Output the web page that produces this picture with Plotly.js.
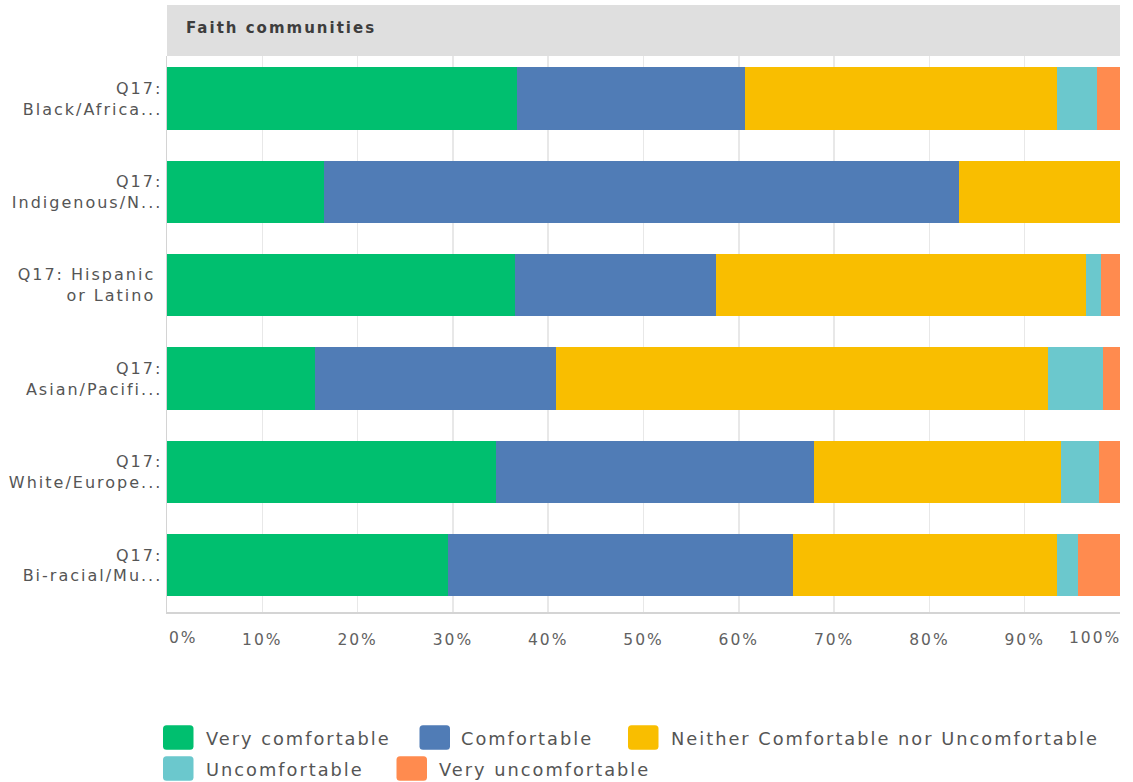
<!DOCTYPE html>
<html>
<head>
<meta charset="utf-8">
<script src="https://cdn.plot.ly/plotly-3.0.1.min.js"></script>
<style>
  html, body { margin: 0; padding: 0; background: #ffffff; }
  #chart { width: 1133px; height: 782px; }
  svg text { letter-spacing: 2px; }
</style>
</head>
<body>
<div id="chart"></div>
<script>
// ---- data ----
const categories = [
  'Q17:<br>Black/Africa...',
  'Q17:<br>Indigenous/N...',
  'Q17: Hispanic\u00a0<br>or Latino\u00a0',
  'Q17:<br>Asian/Pacifi...',
  'Q17:<br>White/Europe...',
  'Q17:<br>Bi-racial/Mu...'
];
const seriesNames = ['Very comfortable', 'Comfortable', 'Neither Comfortable nor Uncomfortable', 'Uncomfortable', 'Very uncomfortable'];
const veryComfortable   = [36.7, 16.5, 36.5, 15.5, 34.5, 29.5];
const comfortable       = [23.9, 66.6, 21.1, 25.3, 33.4, 36.2];
const neither           = [32.8, 16.9, 38.8, 51.6, 25.9, 27.7];
const uncomfortable     = [4.2, 0, 1.6, 5.8, 4.0, 2.2];
const veryUncomfortable = [2.4, 0, 2.0, 1.8, 2.2, 4.4];
const tickValues = [0, 10, 20, 30, 40, 50, 60, 70, 80, 90, 100];
const tickLabels = ['0%', '10%', '20%', '30%', '40%', '50%', '60%', '70%', '80%', '90%', '100%'];
const panelTitle = 'Faith communities';

// ---- style ----
const colors = ['#00bf6f', '#507cb6', '#f9be00', '#6bc8cd', '#ff8b4f'];
const FONT = 'DejaVu Sans, Verdana, sans-serif';
const W = 1133, H = 782;
const M = { l: 167, r: 13, t: 56, b: 170 };
const plotW = W - M.l - M.r, plotH = H - M.t - M.b;
const px = p => (p - M.l) / plotW;          // pixel x -> paper
const py = p => (H - M.b - p) / plotH;      // pixel y -> paper

const seriesValues = [veryComfortable, comfortable, neither, uncomfortable, veryUncomfortable];
const traces = seriesValues.map((vals, i) => ({
  type: 'bar',
  orientation: 'h',
  name: seriesNames[i],
  y: categories,
  x: vals,
  width: 0.667,
  marker: { color: colors[i], line: { width: 0 } },
  hoverinfo: 'x+name',
  showlegend: false
}));

const shapes = [];
const annotations = [];

// header band
shapes.push({ type: 'rect', xref: 'paper', yref: 'paper', x0: 0, x1: 1, y0: 1, y1: py(5),
  fillcolor: '#dfdfdf', line: { width: 0 }, layer: 'below' });
annotations.push({ xref: 'paper', yref: 'paper', x: px(184), y: py(28), xanchor: 'left', yanchor: 'middle',
  text: panelTitle, showarrow: false, font: { family: FONT, size: 15, color: '#3d3d3d', weight: 700 } });

// end tick labels (0% left-aligned, 100% right-aligned)
const last = tickLabels.length - 1;
annotations.push({ xref: 'x', yref: 'paper', x: tickValues[0], y: py(638), xanchor: 'left', yanchor: 'middle',
  text: tickLabels[0], showarrow: false, font: { family: FONT, size: 15.5, color: '#616161' } });
annotations.push({ xref: 'x', yref: 'paper', x: tickValues[last], y: py(638), xanchor: 'right', yanchor: 'middle', xshift: 3,
  text: tickLabels[last], showarrow: false, font: { family: FONT, size: 15.5, color: '#616161' } });

// manual legend
const legendPos = [
  { sx: 163, tx: 204, cy: 737.5 },
  { sx: 419.5, tx: 459, cy: 737.5 },
  { sx: 628, tx: 669, cy: 737.5 },
  { sx: 163, tx: 204, cy: 768.5 },
  { sx: 396.5, tx: 437, cy: 768.5 }
];
const sw = 30.5, sh = 24.5, rad = 3.5;
seriesNames.forEach((nm, i) => {
  const p = legendPos[i];
  const x0 = px(p.sx), x1 = px(p.sx + sw);
  const yT = py(p.cy - sh / 2), yB = py(p.cy + sh / 2);
  const rx = rad / plotW, ry = rad / plotH;
  const path = `M ${x0 + rx},${yT} L ${x1 - rx},${yT} Q ${x1},${yT} ${x1},${yT - ry} L ${x1},${yB + ry} Q ${x1},${yB} ${x1 - rx},${yB} L ${x0 + rx},${yB} Q ${x0},${yB} ${x0},${yB + ry} L ${x0},${yT - ry} Q ${x0},${yT} ${x0 + rx},${yT} Z`;
  shapes.push({ type: 'path', xref: 'paper', yref: 'paper', path: path, fillcolor: colors[i], line: { width: 0 } });
  annotations.push({ xref: 'paper', yref: 'paper', x: px(p.tx), y: py(p.cy + 0.5), xanchor: 'left', yanchor: 'middle',
    text: nm, showarrow: false, font: { family: FONT, size: 17.8, color: '#555555' } });
});

const layout = {
  width: W, height: H,
  margin: M,
  paper_bgcolor: '#ffffff',
  plot_bgcolor: '#ffffff',
  barmode: 'stack',
  bargap: 0,
  showlegend: false,
  font: { family: FONT, color: '#555555' },
  xaxis: {
    range: [0, 100],
    tickvals: tickValues,
    ticktext: tickLabels.map((t, i) => (i === 0 || i === last) ? '' : t),
    showgrid: true, gridcolor: '#e8e8e8', gridwidth: 1.5,
    zeroline: false,
    showline: true, linecolor: '#d4d4d4', linewidth: 1.5,
    ticks: '', ticklabelstandoff: 13,
    tickfont: { family: FONT, size: 15.5, color: '#616161' },
    fixedrange: true
  },
  yaxis: {
    type: 'category',
    range: [5.5, -0.456],
    showgrid: false, zeroline: false,
    showline: true, linecolor: '#d4d4d4', linewidth: 1.5,
    ticks: '', ticklabelstandoff: 0,
    tickfont: { family: FONT, size: 16, color: '#555555' },
    fixedrange: true
  },
  shapes: shapes,
  annotations: annotations
};

Plotly.newPlot('chart', traces, layout, { displayModeBar: false, staticPlot: true });
</script>
</body>
</html>
